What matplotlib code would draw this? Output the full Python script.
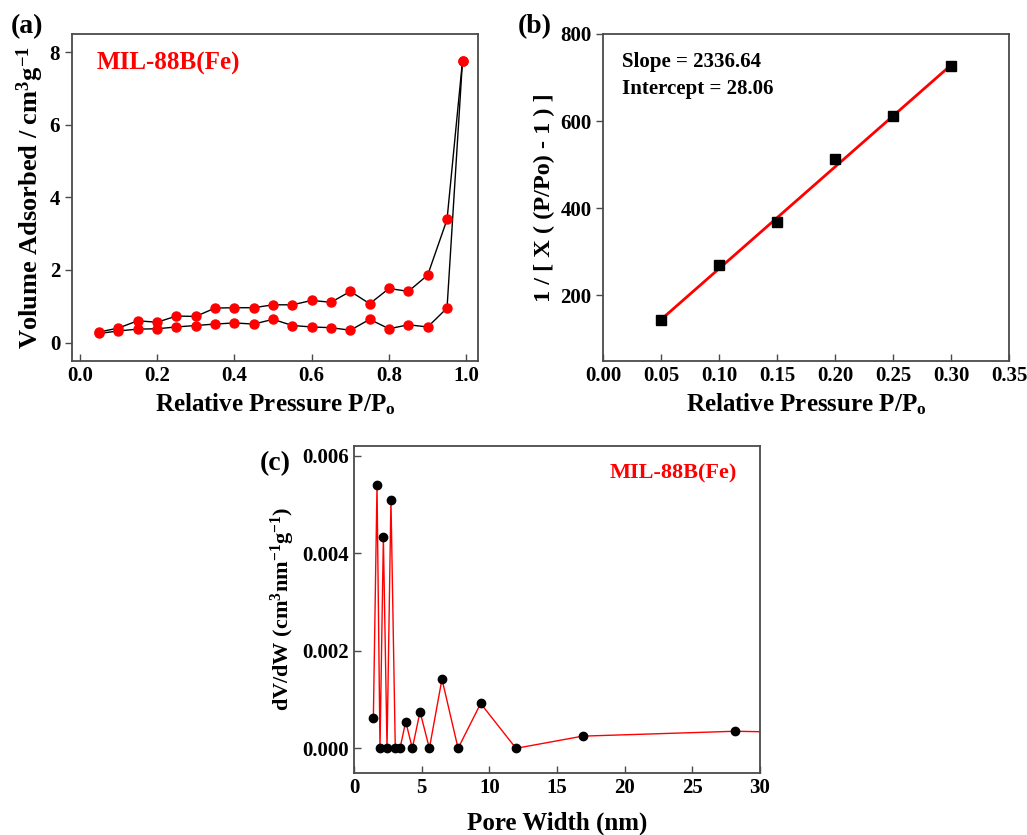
"""BET / BJH plots for MIL-88B(Fe)"""

import matplotlib.pyplot as plt
import numpy as np

plt.rcParams['font.family'] = ['Liberation Serif', 'DejaVu Serif']
plt.rcParams['font.weight'] = 'bold'
plt.rcParams['axes.labelweight'] = 'bold'
plt.rcParams['mathtext.fontset'] = 'custom'
plt.rcParams['mathtext.rm'] = 'Liberation Serif:bold'
plt.rcParams['mathtext.bf'] = 'Liberation Serif:bold'
plt.rcParams['mathtext.it'] = 'Liberation Serif:italic:bold'
plt.rcParams['mathtext.default'] = 'rm'

# (a) N2 isotherm
P_REL = [0.05, 0.10, 0.15, 0.20, 0.25, 0.30, 0.35, 0.40, 0.45, 0.50,
         0.55, 0.60, 0.65, 0.70, 0.75, 0.80, 0.85, 0.90, 0.95, 0.99]
ADS = [0.25, 0.32, 0.37, 0.38, 0.43, 0.47, 0.51, 0.54, 0.51, 0.64,
       0.47, 0.43, 0.41, 0.34, 0.64, 0.38, 0.49, 0.43, 0.95, 7.76]
DES = [0.29, 0.40, 0.60, 0.56, 0.73, 0.72, 0.95, 0.96, 0.96, 1.04,
       1.04, 1.16, 1.11, 1.41, 1.07, 1.49, 1.41, 1.86, 3.39, 7.76]

# (b) BET plot
BET_X = [0.05, 0.10, 0.15, 0.20, 0.25, 0.30]
BET_Y = [143, 269, 369, 514, 612, 727]
SLOPE = 2336.64
INTERCEPT = 28.06

# (c) pore size distribution
PORE_W = [1.43, 1.70, 1.92, 2.17, 2.44, 2.73, 3.05, 3.40, 3.82, 4.31,
          4.88, 5.57, 6.50, 7.69, 9.36, 11.97, 16.90, 28.16, 40.0]
DVDW = [0.00062, 0.00540, 0.0, 0.00433, 0.0, 0.00510, 0.0, 0.0, 0.00055, 0.0,
        0.00075, 0.0, 0.00142, 0.0, 0.00092, 0.0, 0.00025, 0.00035, 0.00029]

SPINE = '#4a4a4a'


def style(ax):
    """spines and ticks"""
    for s in ax.spines.values():
        s.set_color(SPINE)
        s.set_linewidth(1.3)
    ax.tick_params(axis='both', labelsize=15, width=1.0, length=5, color=SPINE)
    ax.tick_params(axis='x', direction='in')
    ax.tick_params(axis='y', direction='out')


def main():
    """
    Main
    """
    fig = plt.figure(figsize=(10.27, 8.35), dpi=100)

    # (a)
    ax = fig.add_axes([0.0701, 0.568, 0.3953, 0.3913])
    ax.plot(P_REL, ADS, '-', color='k', lw=1.0, zorder=1)
    ax.plot(P_REL, DES, '-', color='k', lw=1.0, zorder=1)
    ax.plot(P_REL, ADS, 'o', color='red', ms=6.5, zorder=2)
    ax.plot(P_REL, DES, 'o', color='red', ms=6.5, zorder=2)
    ax.set_xlim(-0.02, 1.03)
    ax.set_ylim(-0.5, 8.5)
    ax.set_xticks(np.arange(0, 1.01, 0.2))
    ax.set_xticklabels(['0.0', '0.2', '0.4', '0.6', '0.8', '1.0'])
    ax.set_yticks([0, 2, 4, 6, 8])
    style(ax)
    ax.set_xlabel('Relative Pressure P/P$_\\mathregular{o}$', fontsize=18)
    ax.set_ylabel('Volume Adsorbed / cm$^3$g$^{-1}$', fontsize=19, labelpad=3)
    ax.text(0.06, 0.89, 'MIL-88B(Fe)', transform=ax.transAxes, color='red',
            fontsize=18, fontweight='bold')

    # (b)
    ax = fig.add_axes([0.5874, 0.568, 0.3953, 0.3913])
    fit_x = np.array([BET_X[0], BET_X[-1]])
    ax.plot(fit_x, SLOPE * fit_x + INTERCEPT, '-', color='red', lw=2.0, zorder=1)
    ax.plot(BET_X, BET_Y, 's', color='k', ms=6.5, zorder=2)
    ax.set_xlim(0, 0.35)
    ax.set_ylim(50, 800)
    ax.set_xticks(np.arange(0, 0.351, 0.05))
    ax.set_xticklabels(['%.2f' % v for v in np.arange(0, 0.351, 0.05)])
    ax.set_yticks([200, 400, 600, 800])
    style(ax)
    ax.set_xlabel('Relative Pressure P/P$_\\mathregular{o}$', fontsize=18)
    ax.set_ylabel('1 / [ X ( (P/Po) - 1 ) ]', fontsize=17.5, labelpad=4)
    ax.text(0.045, 0.90, 'Slope = %.2f' % SLOPE, transform=ax.transAxes,
            fontsize=15, fontweight='bold')
    ax.text(0.045, 0.815, 'Intercept = %.2f' % INTERCEPT, transform=ax.transAxes,
            fontsize=15, fontweight='bold')

    # (c)
    ax = fig.add_axes([0.3447, 0.0746, 0.3953, 0.3913])
    ax.plot(PORE_W, DVDW, '-', color='red', lw=1.0, zorder=1)
    ax.plot(PORE_W, DVDW, 'o', color='k', ms=6, zorder=2)
    ax.set_xlim(0, 30)
    ax.set_ylim(-0.0005, 0.0062)
    ax.set_xticks([0, 5, 10, 15, 20, 25, 30])
    ax.set_yticks([0, 0.002, 0.004, 0.006])
    ax.set_yticklabels(['0.000', '0.002', '0.004', '0.006'])
    style(ax)
    ax.tick_params(axis='y', direction='in')
    ax.set_xlabel('Pore Width (nm)', fontsize=18, labelpad=10)
    ax.set_ylabel('dV/dW (cm$^3$nm$^{-1}$g$^{-1}$)', fontsize=16, labelpad=4)
    ax.text(0.63, 0.90, 'MIL-88B(Fe)', transform=ax.transAxes, color='red',
            fontsize=16, fontweight='bold')

    fig.text(0.010, 0.960, '(a)', fontsize=20, fontweight='bold')
    fig.text(0.504, 0.960, '(b)', fontsize=20, fontweight='bold')
    fig.text(0.253, 0.437, '(c)', fontsize=20, fontweight='bold')

    fig.savefig('out.png', dpi=100)


main()
